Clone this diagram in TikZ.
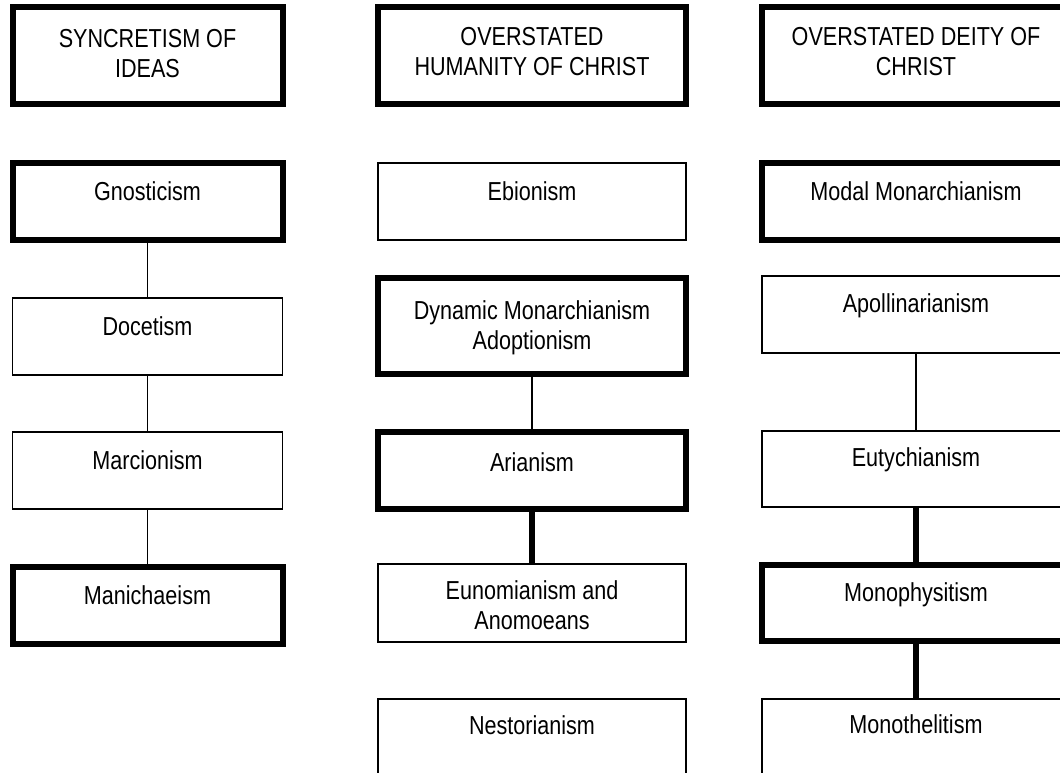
\documentclass[tikz,border=0pt]{standalone}
\usepackage{fontspec}
\setmainfont{Liberation Sans}[FakeStretch=0.83]
\tikzset{
  bx/.style={draw=black, rectangle, inner sep=0pt, outer sep=0pt},
  thinbox/.style={bx, line width=1.3pt},
  thickbox/.style={bx, line width=6pt},
  cA/.style={minimum width=270pt},
  cB/.style={minimum width=308pt},
  lbl/.style={anchor=base, inner sep=0pt, font=\fontsize{26}{30}\selectfont, align=center},
  thinln/.style={line width=1.3pt},
  thickln/.style={line width=5.5pt},
}
\begin{document}
\begin{tikzpicture}[x=1pt, y=-1pt]
\useasboundingbox (0,0) rectangle (1060,772);
\clip (0,0) rectangle (1060,772);
% column 1
\node[thickbox, cA, minimum height=97pt] (t1) at (147.5,55.5) {};
\node[lbl] (t1l) at (147.5,77) {SYNCRETISM OF\\IDEAS};
\node[thickbox, cA, minimum height=77pt] (gno) at (147.5,201.5) {};
\node[lbl] (gnol) at (147.5,200.5) {Gnosticism};
\node[thinbox, cA, minimum height=77pt] (doc) at (147.5,336.5) {};
\node[lbl] (docl) at (147.5,335.5) {Docetism};
\node[thinbox, cA, minimum height=77pt] (mar) at (147.5,470.5) {};
\node[lbl] (marl) at (147.5,469.5) {Marcionism};
\node[thickbox, cA, minimum height=77pt] (man) at (147.5,605) {};
\node[lbl] (manl) at (147.5,604.5) {Manichaeism};
\draw[thinln] (gno.south) -- (doc.north);
\draw[thinln] (doc.south) -- (mar.north);
\draw[thinln] (mar.south) -- (man.north);
% column 2
\node[thickbox, cB, minimum height=97pt] (t2) at (532,55.5) {};
\node[lbl] (t2l) at (532,75) {OVERSTATED\\HUMANITY OF CHRIST};
\node[thinbox, cB, minimum height=77pt] (ebi) at (532,201.5) {};
\node[lbl] (ebil) at (532,200.5) {Ebionism};
\node[thickbox, cB, minimum height=96pt] (dyn) at (532,326) {};
\node[lbl] (dynl) at (532,349) {Dynamic Monarchianism\\Adoptionism};
\node[thickbox, cB, minimum height=77pt] (ari) at (532,470.5) {};
\node[lbl] (aril) at (532,471) {Arianism};
\node[thinbox, cB, minimum height=78pt] (eun) at (532,603) {};
\node[lbl] (eunl) at (532,629) {Eunomianism and\\Anomoeans};
\node[thinbox, cB, minimum height=77pt] (nes) at (532,737.5) {};
\node[lbl] (nesl) at (532,734.5) {Nestorianism};
\draw[thinln] (dyn.south) -- (ari.north);
\draw[thickln] (ari.south) -- (eun.north);
% column 3
\node[thickbox, cB, minimum height=97pt] (t3) at (916,55.5) {};
\node[lbl] (t3l) at (916,75) {OVERSTATED DEITY OF\\CHRIST};
\node[thickbox, cB, minimum height=77pt] (mod) at (916,201.5) {};
\node[lbl] (modl) at (916,200.5) {Modal Monarchianism};
\node[thinbox, cB, minimum height=77pt] (apo) at (916,314.5) {};
\node[lbl] (apol) at (916,312) {Apollinarianism};
\node[thinbox, cB, minimum height=76pt] (eut) at (916,469) {};
\node[lbl] (eutl) at (916,466.5) {Eutychianism};
\node[thickbox, cB, minimum height=76pt] (mph) at (916,603) {};
\node[lbl] (mphl) at (916,601.5) {Monophysitism};
\node[thinbox, cB, minimum height=77pt] (mth) at (916,737.5) {};
\node[lbl] (mthl) at (916,733.5) {Monothelitism};
\draw[thinln] (apo.south) -- (eut.north);
\draw[thickln] (eut.south) -- (mph.north);
\draw[thickln] (mph.south) -- (mth.north);
\end{tikzpicture}
\end{document}
